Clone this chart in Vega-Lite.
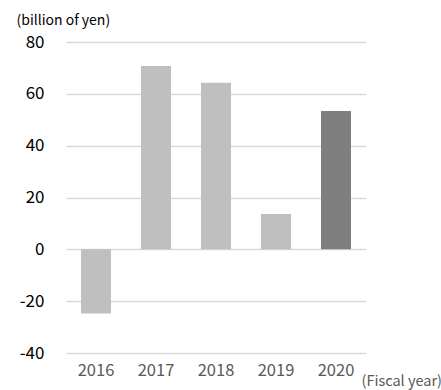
{
  "$schema": "https://vega.github.io/schema/vega-lite/v6.json",
  "width": 300,
  "height": 311,
  "autosize": "none",
  "padding": {"left": 66, "top": 42, "right": 75, "bottom": 37},
  "background": "white",
  "config": {"view": {"stroke": null}, "font": "Noto Sans CJK JP"},
  "data": {"values": [
    {"year": "2016", "value": -24.8, "kind": "past"},
    {"year": "2017", "value": 70.7, "kind": "past"},
    {"year": "2018", "value": 64.3, "kind": "past"},
    {"year": "2019", "value": 13.6, "kind": "past"},
    {"year": "2020", "value": 53.4, "kind": "current"}
  ]},
  "mark": {"type": "bar", "width": 30},
  "encoding": {
    "x": {
      "field": "year", "type": "ordinal",
      "scale": {"paddingInner": 0.5, "paddingOuter": 0.25},
      "axis": {
        "labelAngle": 0, "domain": false, "ticks": false, "labelPadding": 9,
        "labelFontSize": 16.5, "labelColor": "#595959", "labelFont": "Noto Sans CJK JP",
        "title": "(Fiscal year)", "titleFont": "Noto Sans CJK JP", "titleFontSize": 14.5,
        "titleFontWeight": "normal", "titleColor": "#595959",
        "titleAlign": "left", "titleBaseline": "middle", "titleX": 295, "titleY": 28
      }
    },
    "y": {
      "field": "value", "type": "quantitative",
      "scale": {"domain": [-40, 80], "nice": false},
      "axis": {
        "values": [-40, -20, 0, 20, 40, 60, 80],
        "labelExpr": "datum.value < 0 ? '-' + abs(datum.value) : '' + datum.value",
        "grid": true, "gridColor": "#d9d9d9", "gridWidth": 1.5,
        "domain": false, "ticks": false, "labelPadding": 22,
        "labelFontSize": 17, "labelColor": "#000000", "labelFont": "Noto Sans CJK JP",
        "title": "(billion of yen)", "titleFont": "Noto Sans CJK JP", "titleFontSize": 14,
        "titleFontWeight": "normal", "titleColor": "#000000", "titleAngle": 0,
        "titleAlign": "left", "titleBaseline": "middle", "titleX": -50, "titleY": -22
      }
    },
    "color": {
      "field": "kind", "type": "nominal",
      "scale": {"domain": ["past", "current"], "range": ["#bfbfbf", "#7f7f7f"]},
      "legend": null
    }
  }
}
